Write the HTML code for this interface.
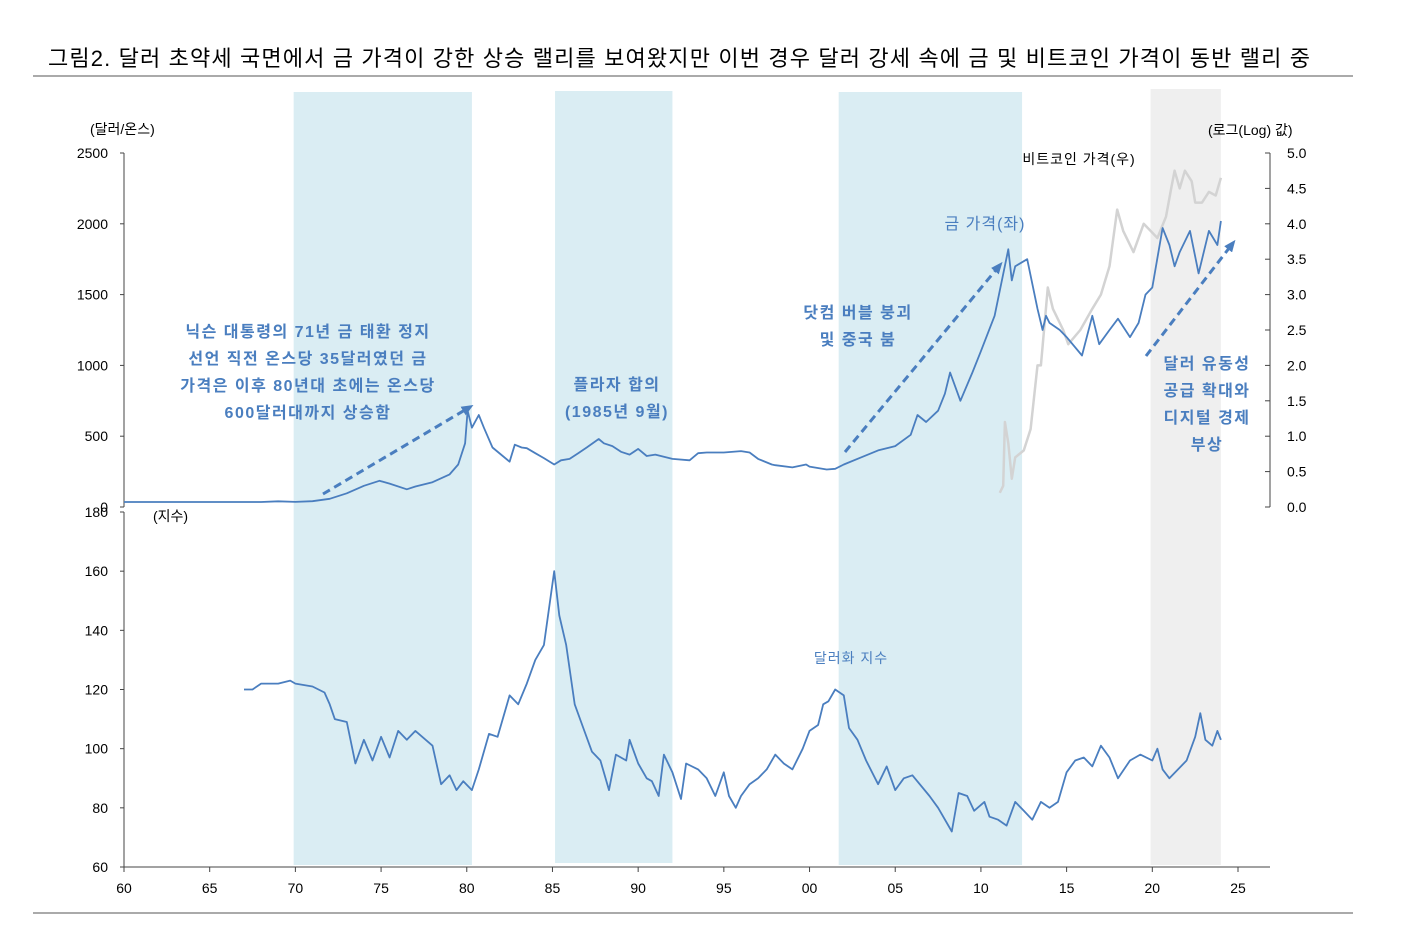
<!DOCTYPE html>
<html><head><meta charset="utf-8">
<style>
body{margin:0;background:#fff;width:1406px;height:926px;overflow:hidden;font-family:"Liberation Sans","Noto Sans CJK KR",sans-serif;}
svg text{font-family:"Liberation Sans","Noto Sans CJK KR",sans-serif;}
</style></head>
<body>
<svg id="chart" width="1406" height="926" xmlns="http://www.w3.org/2000/svg"></svg>
<script>
const goldX=[60,68,69,70,71,72,73,74,74.9,75.5,76.5,77,78,79,79.5,79.9,80.05,80.3,80.7,81,81.5,82.5,82.8,83.2,83.5,84,84.5,85.1,85.5,86,86.5,87,87.7,88,88.5,89,89.5,90,90.5,91,92,93,93.5,94,95,96,96.5,97,97.8,98,99,99.8,100,101,101.5,102,103,104,105,105.9,106.3,106.8,107.5,107.9,108.2,108.8,109.5,110,110.8,111.6,111.8,112,112.7,113.3,113.6,113.8,114,114.6,115,115.9,116.5,116.9,117.5,118,118.7,119.2,119.6,120,120.6,121,121.3,121.6,122.2,122.7,123.3,123.8,124];
const goldV=[35,35,40,36,41,58,97,150,185,165,125,145,175,230,300,450,680,560,650,560,420,320,440,420,415,380,345,300,330,340,380,420,480,450,430,390,370,410,360,370,340,330,380,385,385,395,385,340,300,295,280,300,285,265,270,300,350,400,430,510,650,600,680,800,950,750,950,1100,1350,1820,1600,1700,1750,1400,1250,1350,1300,1250,1200,1070,1350,1150,1250,1330,1200,1300,1500,1550,1970,1850,1700,1800,1950,1650,1950,1850,2020];
const btcX=[111.1,111.3,111.4,111.6,111.8,112,112.5,112.9,113.3,113.5,113.9,114.2,114.8,115.1,115.8,116.5,117,117.5,117.95,118.3,118.9,119.5,119.9,120.3,120.8,121.1,121.3,121.6,121.9,122.3,122.5,122.9,123.3,123.7,124];
const btcV=[0.2,0.3,1.2,0.9,0.4,0.7,0.8,1.1,2.0,2.0,3.1,2.8,2.5,2.3,2.5,2.8,3.0,3.4,4.2,3.9,3.6,4.0,3.9,3.8,4.1,4.5,4.75,4.5,4.75,4.6,4.3,4.3,4.45,4.4,4.65];
const dxyX=[67,67.5,68,69,69.7,70,71,71.7,72,72.3,73,73.5,74,74.5,75,75.5,76,76.5,77,78,78.5,79,79.4,79.8,80.3,80.7,81.3,81.8,82.5,83,83.5,84,84.5,85.1,85.4,85.8,86.3,86.8,87.3,87.8,88.3,88.7,89.3,89.5,90,90.5,90.8,91.2,91.5,92,92.5,92.8,93.5,94,94.5,95,95.3,95.7,96,96.5,97,97.5,98,98.5,99,99.6,100,100.5,100.8,101.1,101.5,102,102.3,102.8,103.3,104,104.5,105,105.5,106,107,107.5,108.3,108.7,109.2,109.6,110.2,110.5,111,111.5,112,112.5,113,113.5,114,114.5,115,115.5,116,116.5,117,117.5,118,118.7,119.3,120,120.3,120.6,121,121.5,122,122.5,122.8,123.1,123.5,123.8,124];
const dxyV=[120,120,122,122,123,122,121,119,115,110,109,95,103,96,104,97,106,103,106,101,88,91,86,89,86,93,105,104,118,115,122,130,135,160,145,135,115,107,99,96,86,98,96,103,95,90,89,84,98,92,83,95,93,90,84,92,84,80,84,88,90,93,98,95,93,100,106,108,115,116,120,118,107,103,96,88,94,86,90,91,84,80,72,85,84,79,82,77,76,74,82,79,76,82,80,82,92,96,97,94,101,97,90,96,98,96,100,93,90,93,96,104,112,103,101,106,103];
const xTicks=["60","65","70","75","80","85","90","95","00","05","10","15","20","25"];
const goldTicks=[0,500,1000,1500,2000,2500];
const logTicks=[0,0.5,1,1.5,2,2.5,3,3.5,4,4.5,5];
const dxyTicks=[60,80,100,120,140,160,180];

const S=document.getElementById('chart');const NS='http://www.w3.org/2000/svg';
function el(t,a,p){const e=document.createElementNS(NS,t);for(const k in a)e.setAttribute(k,a[k]);(p||S).appendChild(e);return e;}
const X=y=>124+(y-60)*(1114/65);
const YG=v=>507-v*354/2500;
const YL=v=>507-v*354/5;
const YD=v=>867-(v-60)*355/120;
[[69.9,80.3,'#daedf3','shade-1970s',92,773],[85.15,92,'#daedf3','shade-plaza',91,772],[101.7,112.4,'#daedf3','shade-2000s',92,773],[119.9,124,'#efefef','shade-2020s',89,776]].forEach(s=>{
 const r=el('rect',{x:X(s[0]),y:s[4],width:X(s[1])-X(s[0]),height:s[5],fill:s[2]});
 });
function txt(x,y,s,o){const t=el('text',Object.assign({x:x,y:y,'font-size':14,fill:'#000'},o||{}));t.textContent=s;return t;}
const tt=txt(48,66,'그림2.   달러 초약세 국면에서 금 가격이 강한 상승 랠리를 보여왔지만 이번 경우 달러 강세 속에 금 및 비트코인 가격이 동반 랠리 중',{'font-size':22,textLength:1262});

el('line',{x1:33,y1:76,x2:1353,y2:76,stroke:'#555','stroke-width':1});
el('line',{x1:33,y1:913,x2:1353,y2:913,stroke:'#555','stroke-width':1});
const ax=el('g',{stroke:'#444','stroke-width':1,fill:'none'});
el('line',{x1:124,y1:153,x2:124,y2:507},ax);el('line',{x1:124,y1:512,x2:124,y2:867},ax);
el('line',{x1:124,y1:867,x2:1270,y2:867},ax);el('line',{x1:1270,y1:153,x2:1270,y2:507},ax);
goldTicks.forEach(v=>{el('line',{x1:120,y1:YG(v),x2:124,y2:YG(v)},ax);const t=txt(108,YG(v)+5,String(v),{'text-anchor':'end'});});
logTicks.forEach(v=>{el('line',{x1:1265,y1:YL(v),x2:1270,y2:YL(v)},ax);const t=txt(1287,YL(v)+5,v.toFixed(1));});
dxyTicks.forEach(v=>{el('line',{x1:120,y1:YD(v),x2:124,y2:YD(v)},ax);const t=txt(108,YD(v)+5,String(v),{'text-anchor':'end'});});
xTicks.forEach((s,i)=>{const x=X(60+i*5);el('line',{x1:x,y1:867,x2:x,y2:872},ax);const t=txt(x,893,s,{'text-anchor':'middle'});});
txt(90,134,'(달러/온스)');txt(1208,135,'(로그(Log) 값)');txt(153,521,'(지수)');
function line(xs,vs,fy,col,w,name){const d=xs.map((x,i)=>(i?'L':'M')+X(x).toFixed(1)+','+fy(vs[i]).toFixed(1)).join('');const p=el('path',{d:d,fill:'none',stroke:col,'stroke-width':w,'stroke-linejoin':'round'});}
line(btcX,btcV,YL,'#d3d3d3',2.5,'bitcoin-line');
line(goldX,goldV,YG,'#4a7ebf',1.8,'gold-line');
line(dxyX,dxyV,YD,'#4a7ebf',1.8,'dollar-index-line');
el('defs',{}).innerHTML='<marker id="ah" markerUnits="userSpaceOnUse" markerWidth="12" markerHeight="10" refX="8" refY="5" orient="auto"><path d="M0,0L12,5L0,10z" fill="#4a7ebf"/></marker>';
[[323,494,470,407],[845,452,1000,265],[1146,356,1233,243]].forEach(a=>{const l=el('line',{x1:a[0],y1:a[1],x2:a[2],y2:a[3],stroke:'#4a7ebf','stroke-width':3,'stroke-dasharray':'8 5','marker-end':'url(#ah)'});});
const B={fill:'#4a7ebf','font-size':16,'font-weight':'bold','text-anchor':'middle','letter-spacing':'1.5'};
['닉슨 대통령의 71년 금 태환 정지','선언 직전 온스당 35달러였던 금','가격은 이후 80년대 초에는 온스당','600달러대까지 상승함'].forEach((s,i)=>txt(308,337+i*27,s,B));
['플라자 합의','(1985년 9월)'].forEach((s,i)=>txt(617,390+i*27,s,B));
['닷컴 버블 붕괴','및 중국 붐'].forEach((s,i)=>txt(858,318+i*27,s,B));
['달러 유동성','공급 확대와','디지털 경제','부상'].forEach((s,i)=>txt(1207,369+i*27,s,B));
txt(985,229,'금 가격(좌)',{fill:'#4a7ebf','font-size':16,'text-anchor':'middle','letter-spacing':'1'});
txt(1079,164,'비트코인 가격(우)',{'font-size':14,'text-anchor':'middle','letter-spacing':'1'});
txt(851,663,'달러화 지수',{fill:'#4a7ebf','font-size':14,'text-anchor':'middle','letter-spacing':'1'});
</script>
</body></html>
